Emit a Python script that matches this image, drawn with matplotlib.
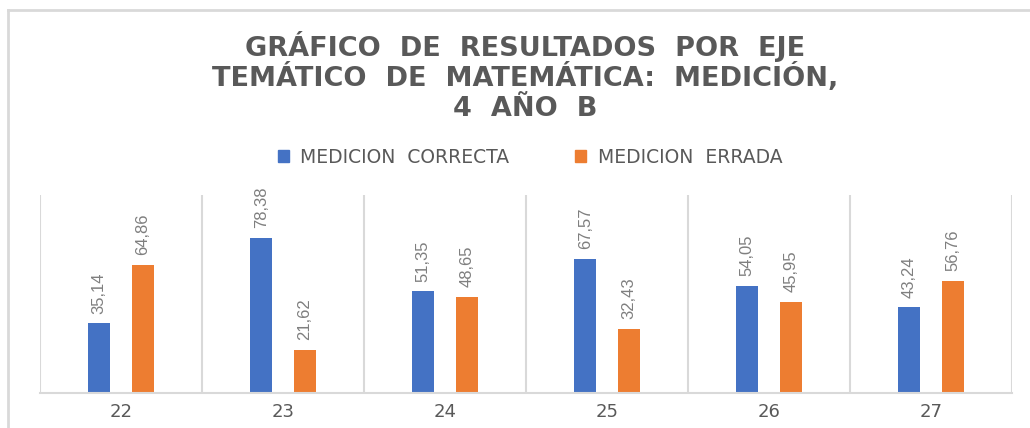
import numpy as np
import matplotlib
matplotlib.use('Agg')
from matplotlib import pyplot as plt
from matplotlib.lines import Line2D
from matplotlib.patches import Patch

categorias = ['22', '23', '24', '25', '26', '27']
correcta = [35.14, 78.38, 51.35, 67.57, 54.05, 43.24]
errada = [64.86, 21.62, 48.65, 32.43, 45.95, 56.76]
etiquetas_correcta = ['35,14', '78,38', '51,35', '67,57', '54,05', '43,24']
etiquetas_errada = ['64,86', '21,62', '48,65', '32,43', '45,95', '56,76']

AZUL = '#4472C4'
NARANJA = '#ED7D31'
GRIS = '#595959'
LINEA = '#d9d9d9'

W, H = 1030, 428
fig = plt.figure(figsize=(W / 100, H / 100), dpi=100)
ax = fig.add_axes([40 / W, 35 / H, 972 / W, 198 / H])

x = np.arange(len(categorias))
ancho = 0.136
off = 0.134
b1 = ax.bar(x - off, correcta, ancho, color=AZUL)
b2 = ax.bar(x + off, errada, ancho, color=NARANJA)

for barras, etiq in ((b1, etiquetas_correcta), (b2, etiquetas_errada)):
    for b, t in zip(barras, etiq):
        ax.annotate(t, (b.get_x() + b.get_width() / 2, b.get_height()),
                    xytext=(0, 7), textcoords='offset points',
                    rotation=90, ha='center', va='bottom',
                    fontsize=12, color='#7f7f7f', family='Liberation Sans')

ax.set_xlim(-0.5, len(categorias) - 0.5)
ax.set_ylim(0, 100)
for s in ['top', 'left', 'right']:
    ax.spines[s].set_visible(False)
ax.spines['bottom'].set_color(LINEA)
ax.spines['bottom'].set_linewidth(1.5)
for v in np.arange(-0.5, len(categorias), 1.0):
    ax.axvline(v, color=LINEA, lw=1.5, zorder=0)
ax.set_yticks([])
ax.set_xticks(x)
ax.set_xticklabels(categorias, fontsize=13, color=GRIS, family='DejaVu Sans')
ax.tick_params(axis='x', length=0, pad=7)

titulo = ['GRÁFICO  DE  RESULTADOS  POR  EJE',
          'TEMÁTICO  DE  MATEMÁTICA:  MEDICIÓN,',
          '4  AÑO  B']
for i, linea in enumerate(titulo):
    fig.text(525 / W, 1 - (47 + 31 * i) / H, linea, ha='center', va='center',
             fontsize=19.5, fontweight='bold', color=GRIS, family='DejaVu Sans')

manejadores = [Patch(color=AZUL, label='MEDICION  CORRECTA'),
               Patch(color=NARANJA, label='MEDICION  ERRADA')]
fig.legend(handles=manejadores, loc='center', bbox_to_anchor=(530 / W, 1 - 157 / H),
           ncol=2, frameon=False, prop={'family': 'DejaVu Sans', 'size': 13.5},
           labelcolor=GRIS, handlelength=0.6, handleheight=0.6,
           handletextpad=0.6, columnspacing=3.5)

fig.add_artist(Line2D([8 / W, 8 / W], [0, 1 - 10 / H], color=LINEA, lw=2))
fig.add_artist(Line2D([8 / W, 1], [1 - 10 / H, 1 - 10 / H], color=LINEA, lw=2))

fig.savefig('out.png', dpi=100)
